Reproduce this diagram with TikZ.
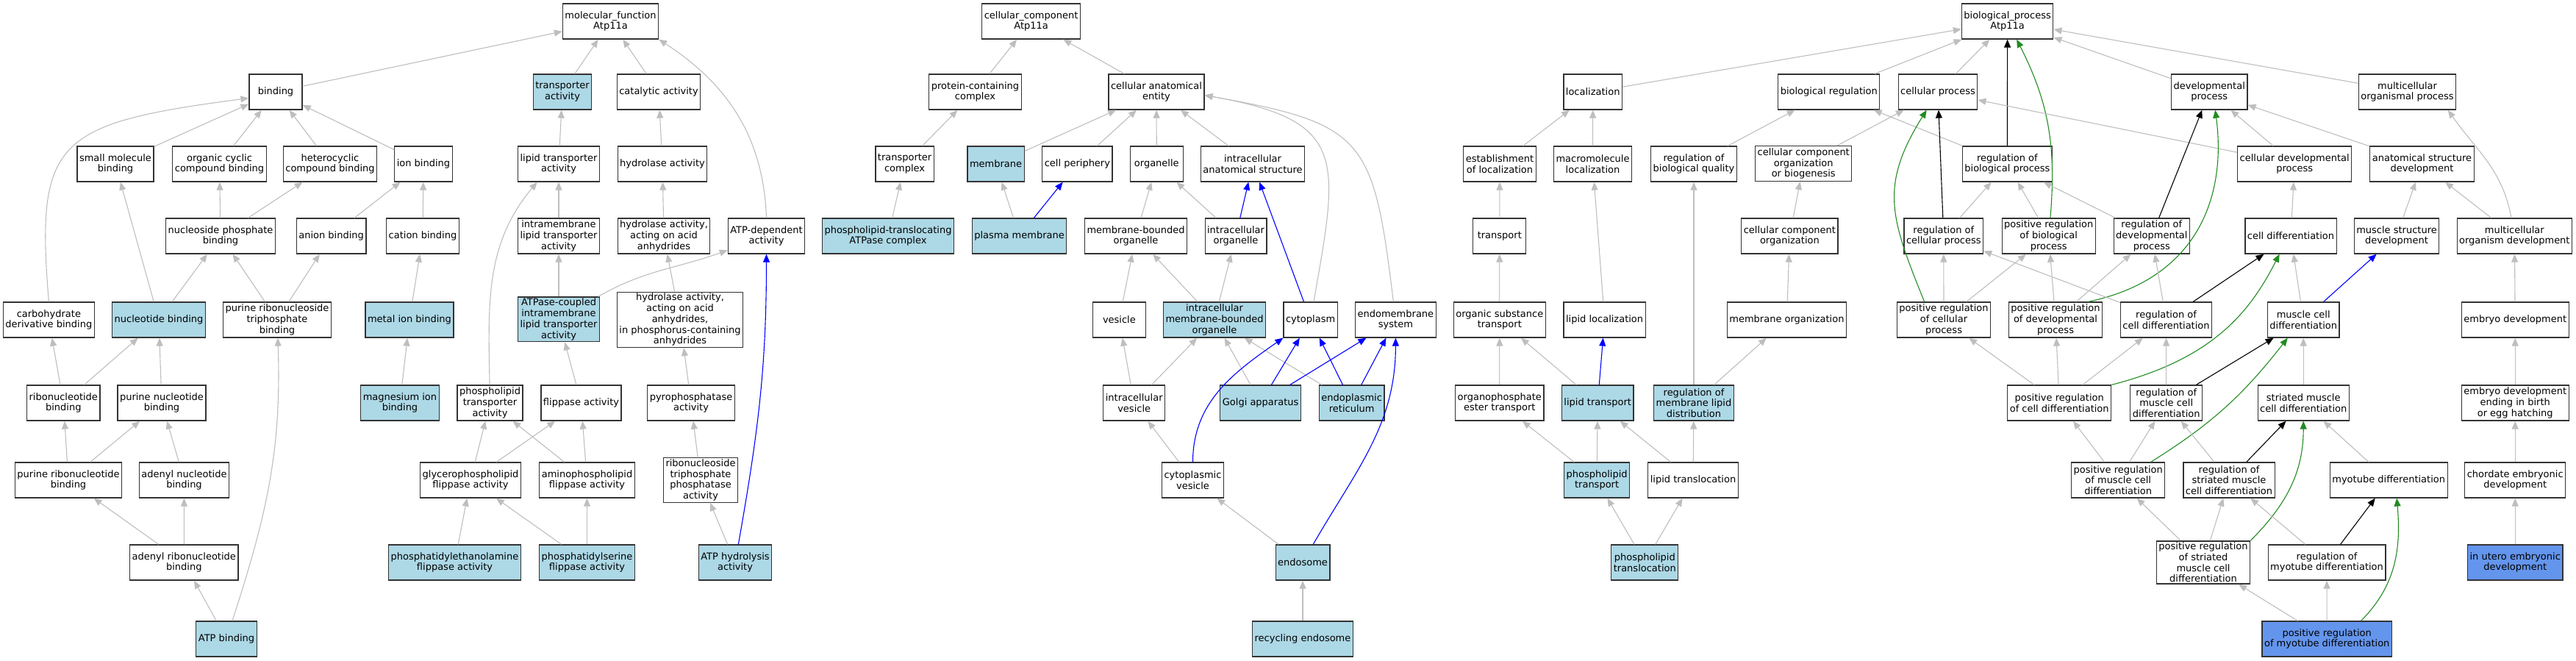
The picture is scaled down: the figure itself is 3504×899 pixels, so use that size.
\documentclass[tikz,border=0pt]{standalone}
\usepackage{fontspec}
\setmainfont{DejaVu Sans}
\usetikzlibrary{arrows.meta}
\definecolor{hitblue}{HTML}{ADD8E6}
\definecolor{leafblue}{HTML}{6495ED}
\definecolor{isagray}{HTML}{BEBEBE}
\definecolor{posgreen}{HTML}{228B22}
\newcommand{\termfont}{\fontsize{13pt}{14.7pt}\selectfont}
\tikzset{
  term/.style={draw=black!80, line width=1.2pt, fill=white, rectangle, align=center,
    inner xsep=3pt, inner ysep=2pt, minimum width=72pt, minimum height=48pt, font=\termfont},
  hit/.style={term, fill=hitblue},
  leaf/.style={term, fill=leafblue},
  isa/.style={draw=isagray, line width=1.1pt, -{Triangle[length=11pt,width=9pt]}},
  partof/.style={isa, draw=blue},
  regl/.style={isa, draw=black},
  posreg/.style={isa, draw=posgreen}
}
\begin{document}
\begin{tikzpicture}[x=1pt,y=-1pt]
\useasboundingbox (0,0) rectangle (3504,899);

\node[term] (molfn) at (830.5,29) {molecular\_function\\Atp11a};
\node[term] (bind) at (375,125) {binding};
\node[hit] (tract) at (765,125) {transporter\\activity};
\node[term] (catal) at (896,125) {catalytic activity};
\node[term] (smb) at (157,223) {small molecule\\binding};
\node[term] (ocb) at (298.5,223) {organic cyclic\\compound binding};
\node[term] (hcb) at (449,223) {heterocyclic\\compound binding};
\node[term] (ionb) at (576,223) {ion binding};
\node[term] (lipt) at (760,223) {lipid transporter\\activity};
\node[term] (hydr) at (901,223) {hydrolase activity};
\node[term] (npb) at (300,321) {nucleoside phosphate\\binding};
\node[term] (anb) at (450.6,321) {anion binding};
\node[term] (catb) at (575,321) {cation binding};
\node[term] (imlt) at (760,321) {intramembrane\\lipid transporter\\activity};
\node[term] (hyaa) at (903,321) {hydrolase activity,\\acting on acid\\anhydrides};
\node[term] (atpd) at (1042.5,321) {ATP-dependent\\activity};
\node[term] (carb) at (66.4,435) {carbohydrate\\derivative binding};
\node[hit] (nucb) at (216,435) {nucleotide binding};
\node[term] (prtb) at (377,435) {purine ribonucleoside\\triphosphate\\binding};
\node[hit] (metb) at (557,435) {metal ion binding};
\node[hit] (atpc) at (760,434.4) {ATPase-coupled\\intramembrane\\lipid transporter\\activity};
\node[term] (hypa) at (925,434.8) {hydrolase activity,\\acting on acid\\anhydrides,\\in phosphorus-containing\\anhydrides};
\node[term] (ribb) at (86.3,548) {ribonucleotide\\binding};
\node[term] (pnb) at (220,548) {purine nucleotide\\binding};
\node[hit] (mgb) at (544,548) {magnesium ion\\binding};
\node[term] (plta) at (666.5,548) {phospholipid\\transporter\\activity};
\node[term] (flip) at (790.5,548) {flippase activity};
\node[term] (pyro) at (940,548) {pyrophosphatase\\activity};
\node[term] (prnb) at (93,653) {purine ribonucleotide\\binding};
\node[term] (adnb) at (250.5,653) {adenyl nucleotide\\binding};
\node[term] (gpfa) at (640,653) {glycerophospholipid\\flippase activity};
\node[term] (apfa) at (798.5,653) {aminophospholipid\\flippase activity};
\node[term] (rtpa) at (953,653) {ribonucleoside\\triphosphate\\phosphatase\\activity};
\node[term] (arnb) at (250.3,765) {adenyl ribonucleotide\\binding};
\node[hit] (pefa) at (618.5,765) {phosphatidylethanolamine\\flippase activity};
\node[hit] (psfa) at (798.5,765) {phosphatidylserine\\flippase activity};
\node[hit] (atph) at (1000,765) {ATP hydrolysis\\activity};
\node[hit] (atpb) at (308,869) {ATP binding};

\node[term] (ccomp) at (1402.6,29) {cellular\_component\\Atp11a};
\node[term] (pcc) at (1326.5,125) {protein-containing\\complex};
\node[term] (cae) at (1573,125) {cellular anatomical\\entity};
\node[term] (trcx) at (1230.6,223) {transporter\\complex};
\node[hit] (memb) at (1354.6,223) {membrane};
\node[term] (cper) at (1465.4,223) {cell periphery};
\node[term] (orgn) at (1573.3,223) {organelle};
\node[term] (ias) at (1704,223) {intracellular\\anatomical structure};
\node[hit] (pltc) at (1208,321) {phospholipid-translocating\\ATPase complex};
\node[hit] (pmem) at (1386.6,321) {plasma membrane};
\node[term] (mbo) at (1545,321) {membrane-bounded\\organelle};
\node[term] (iorg) at (1681,321) {intracellular\\organelle};
\node[term] (vesi) at (1522.4,435) {vesicle};
\node[hit] (imbo) at (1652,435) {intracellular\\membrane-bounded\\organelle};
\node[term] (cyto) at (1782.6,435) {cytoplasm};
\node[term] (endo) at (1898.4,435) {endomembrane\\system};
\node[term] (ives) at (1542.7,548) {intracellular\\vesicle};
\node[hit] (golgi) at (1714.6,548) {Golgi apparatus};
\node[hit] (er) at (1838.7,548) {endoplasmic\\reticulum};
\node[term] (cves) at (1622.5,653) {cytoplasmic\\vesicle};
\node[hit] (endos) at (1772,765) {endosome};
\node[hit] (recy) at (1772,869) {recycling endosome};

\node[term] (bproc) at (2730.6,29) {biological\_process\\Atp11a};
\node[term] (loc) at (2166.7,125) {localization};
\node[term] (breg) at (2487.8,125) {biological regulation};
\node[term] (cproc) at (2636,125) {cellular process};
\node[term] (devp) at (3005.2,125) {developmental\\process};
\node[term] (mop) at (3274.5,125) {multicellular\\organismal process};
\node[term] (estl) at (2040,223) {establishment\\of localization};
\node[term] (mloc) at (2166.5,223) {macromolecule\\localization};
\node[term] (rbq) at (2304,223) {regulation of\\biological quality};
\node[term] (ccob) at (2453.2,222.5) {cellular component\\organization\\or biogenesis};
\node[term] (rbp) at (2730.4,223) {regulation of\\biological process};
\node[term] (cdp) at (3121.2,223) {cellular developmental\\process};
\node[term] (asd) at (3294.5,223) {anatomical structure\\development};
\node[term] (trans) at (2039.8,321) {transport};
\node[term] (cco) at (2434.4,321) {cellular component\\organization};
\node[term] (rcp) at (2643.8,321) {regulation of\\cellular process};
\node[term] (prbp) at (2786.7,321) {positive regulation\\of biological\\process};
\node[term] (rdp) at (2926.8,321) {regulation of\\developmental\\process};
\node[term] (cdiff) at (3116,321) {cell differentiation};
\node[term] (msd) at (3260,321) {muscle structure\\development};
\node[term] (mod) at (3420.3,321) {multicellular\\organism development};
\node[term] (ost) at (2039.8,435) {organic substance\\transport};
\node[term] (lloc) at (2182.6,435) {lipid localization};
\node[term] (morg) at (2430.4,435) {membrane organization};
\node[term] (prcp) at (2644,435) {positive regulation\\of cellular\\process};
\node[term] (prdp) at (2796,435) {positive regulation\\of developmental\\process};
\node[term] (rcd) at (2946.5,435) {regulation of\\cell differentiation};
\node[term] (mcd) at (3133.2,435) {muscle cell\\differentiation};
\node[term] (embd) at (3421.2,435) {embryo development};
\node[term] (oet) at (2039.8,548) {organophosphate\\ester transport};
\node[hit] (ltr) at (2173.2,548) {lipid transport};
\node[hit] (rmld) at (2304,548) {regulation of\\membrane lipid\\distribution};
\node[term] (prcd) at (2801.2,548) {positive regulation\\of cell differentiation};
\node[term] (rmcd) at (2946.7,548) {regulation of\\muscle cell\\differentiation};
\node[term] (smcd) at (3133.2,548) {striated muscle\\cell differentiation};
\node[term] (edb) at (3421.2,548) {embryo development\\ending in birth\\or egg hatching};
\node[hit] (pltr) at (2172.1,653) {phospholipid\\transport};
\node[term] (ltrl) at (2303,653) {lipid translocation};
\node[term] (prmcd) at (2881.2,653) {positive regulation\\of muscle cell\\differentiation};
\node[term] (rsmcd) at (3032,653) {regulation of\\striated muscle\\cell differentiation};
\node[term] (myod) at (3249.2,653) {myotube differentiation};
\node[term] (ced) at (3421.2,653) {chordate embryonic\\development};
\node[hit] (pltl) at (2237.3,765) {phospholipid\\translocation};
\node[term] (prsmcd) at (2997,765) {positive regulation\\of striated\\muscle cell\\differentiation};
\node[term] (rmyod) at (3165,765) {regulation of\\myotube differentiation};
\node[leaf] (iued) at (3421.2,765) {in utero embryonic\\development};
\node[leaf] (prmyod) at (3165.2,869) {positive regulation\\of myotube differentiation};

\draw[isa] (bind) -- (molfn); \draw[isa] (tract) -- (molfn); \draw[isa] (catal) -- (molfn);
\draw[isa] (atpd.north) to[out=92,in=-33] (molfn.south east);
\draw[isa] (smb) -- (bind); \draw[isa] (ocb) -- (bind); \draw[isa] (hcb) -- (bind);
\draw[isa] (ionb) -- (bind);
\draw[isa] (carb.north) .. controls (48,190) and (75,168) .. (bind.193);
\draw[isa] (nucb) -- (smb); \draw[isa] (npb) -- (ocb); \draw[isa] (npb) -- (hcb);
\draw[isa] (anb) -- (ionb); \draw[isa] (catb) -- (ionb); \draw[isa] (nucb) -- (npb);
\draw[isa] (prtb) -- (npb); \draw[isa] (prtb) -- (anb); \draw[isa] (metb) -- (catb);
\draw[isa] (ribb) -- (carb); \draw[isa] (ribb) -- (nucb); \draw[isa] (pnb) -- (nucb);
\draw[isa] (mgb) -- (metb); \draw[isa] (prnb) -- (ribb); \draw[isa] (prnb) -- (pnb);
\draw[isa] (adnb) -- (pnb); \draw[isa] (arnb) -- (prnb); \draw[isa] (arnb) -- (adnb);
\draw[isa] (atpb) -- (arnb); \draw[isa] (atpb) to[out=72,in=-88] (prtb);
\draw[isa] (lipt) -- (tract); \draw[isa] (hydr) -- (catal); \draw[isa] (imlt) -- (lipt);
\draw[isa] (plta) to[out=91,in=-130] (lipt.-140);
\draw[isa] (hyaa) -- (hydr); \draw[isa] (atpc) -- (imlt);
\draw[isa] (atpc) to[out=30,in=200] (atpd);
\draw[isa] (hypa) -- (hyaa); \draw[isa] (flip) -- (atpc); \draw[isa] (pyro) -- (hypa);
\draw[isa] (gpfa) -- (plta); \draw[isa] (gpfa) -- (flip); \draw[isa] (apfa) -- (plta);
\draw[isa] (apfa) -- (flip); \draw[isa] (rtpa) -- (pyro); \draw[isa] (pefa) -- (gpfa);
\draw[isa] (psfa) -- (gpfa); \draw[isa] (psfa) -- (apfa); \draw[isa] (atph) -- (rtpa);
\draw[partof] (atph) to[out=80,in=-90] (atpd);

\draw[isa] (pcc) -- (ccomp); \draw[isa] (cae) -- (ccomp); \draw[isa] (trcx) -- (pcc);
\draw[isa] (memb) -- (cae); \draw[isa] (cper) -- (cae); \draw[isa] (orgn) -- (cae);
\draw[isa] (ias) -- (cae);
\draw[isa] (cyto) to[out=80,in=-10,looseness=1.6] (cae.-4);
\draw[isa] (endo) to[out=97,in=-10,looseness=1.5] (cae.-4);
\draw[isa] (pltc) -- (trcx); \draw[isa] (pmem) -- (memb); \draw[partof] (pmem) -- (cper);
\draw[isa] (mbo) -- (orgn); \draw[isa] (iorg) -- (orgn); \draw[partof] (iorg) -- (ias);
\draw[partof] (cyto) -- (ias); \draw[isa] (vesi) -- (mbo); \draw[isa] (imbo) -- (mbo);
\draw[isa] (imbo) -- (iorg); \draw[isa] (ives) -- (vesi); \draw[isa] (ives) -- (imbo);
\draw[isa] (golgi) -- (imbo); \draw[isa] (er) -- (imbo);
\draw[partof] (golgi) -- (cyto); \draw[partof] (golgi) -- (endo);
\draw[partof] (er) -- (cyto); \draw[partof] (er) -- (endo);
\draw[isa] (cves) -- (ives);
\draw[partof] (cves.north) to[out=90,in=-145] (cyto.south west);
\draw[isa] (endos) -- (cves); \draw[partof] (endos) to[out=60,in=-90] (endo);
\draw[isa] (recy) -- (endos);

\draw[isa] (loc) -- (bproc); \draw[isa] (breg) -- (bproc); \draw[isa] (cproc) -- (bproc);
\draw[regl] (rbp) -- (bproc); \draw[posreg] (prbp) to[out=85,in=-63] (bproc);
\draw[isa] (devp) -- (bproc); \draw[isa] (mop) -- (bproc);
\draw[isa] (estl) -- (loc); \draw[isa] (mloc) -- (loc); \draw[isa] (rbq) -- (breg);
\draw[isa] (ccob) -- (cproc); \draw[isa] (rbp) -- (breg); \draw[regl] (rcp) -- (cproc);
\draw[posreg] (prcp.137) to[out=112,in=-122,looseness=1.2] (cproc);
\draw[isa] (cdp) -- (cproc);
\draw[isa] (trans) -- (estl); \draw[isa] (lloc) -- (mloc); \draw[isa] (rmld) -- (rbq);
\draw[isa] (rmld) -- (morg); \draw[isa] (cco) -- (ccob); \draw[isa] (morg) -- (cco);
\draw[isa] (ost) -- (trans); \draw[partof] (ltr) -- (lloc); \draw[isa] (ltr) -- (ost);
\draw[isa] (oet) -- (ost); \draw[isa] (pltr) -- (oet); \draw[isa] (pltr) -- (ltr);
\draw[isa] (ltrl) -- (ltr); \draw[isa] (ltrl) -- (rmld); \draw[isa] (pltl) -- (pltr);
\draw[isa] (pltl) -- (ltrl);
\draw[isa] (rcp) -- (rbp); \draw[isa] (prbp) -- (rbp); \draw[isa] (rdp) -- (rbp);
\draw[regl] (rdp) -- (devp);
\draw[posreg] (prdp.29) .. controls (2995,378) and (3028,260) .. (devp.-72);
\draw[isa] (cdp) -- (devp); \draw[isa] (asd) -- (devp);
\draw[isa] (prcp) -- (rcp); \draw[isa] (prcp) -- (prbp); \draw[isa] (prdp) -- (prbp);
\draw[isa] (prdp) -- (rdp); \draw[isa] (rcd) -- (rcp); \draw[isa] (rcd) -- (rdp);
\draw[isa] (cdiff) -- (cdp); \draw[isa] (msd) -- (asd); \draw[isa] (mod) -- (asd);
\draw[isa] (mod) to[out=100,in=-55] (mop.-24);
\draw[regl] (rcd) -- (cdiff);
\draw[posreg] (prcd.north east) .. controls (3010,488) and (3060,425) .. (cdiff.-122);
\draw[isa] (mcd) -- (cdiff); \draw[partof] (mcd) -- (msd); \draw[isa] (embd) -- (mod);
\draw[isa] (prcd) -- (prcp); \draw[isa] (prcd) -- (prdp); \draw[isa] (prcd) -- (rcd);
\draw[isa] (rmcd) -- (rcd); \draw[regl] (rmcd) -- (mcd); \draw[isa] (smcd) -- (mcd);
\draw[isa] (edb) -- (embd);
\draw[isa] (prmcd) -- (prcd); \draw[isa] (prmcd) -- (rmcd);
\draw[posreg] (prmcd.29) to[out=32,in=-128] (mcd.-131);
\draw[isa] (rsmcd) -- (rmcd); \draw[regl] (rsmcd) -- (smcd); \draw[isa] (myod) -- (smcd);
\draw[isa] (ced) -- (edb);
\draw[isa] (prsmcd) -- (prmcd); \draw[isa] (prsmcd) -- (rsmcd);
\draw[posreg] (prsmcd.north east) to[out=45,in=-90] (smcd);
\draw[isa] (rmyod) -- (rsmcd); \draw[regl] (rmyod) -- (myod); \draw[isa] (iued) -- (ced);
\draw[isa] (prmyod) -- (prsmcd); \draw[isa] (prmyod) -- (rmyod);
\draw[posreg] (prmyod.28) to[out=45,in=-85] (myod.-66);
\end{tikzpicture}
\end{document}
